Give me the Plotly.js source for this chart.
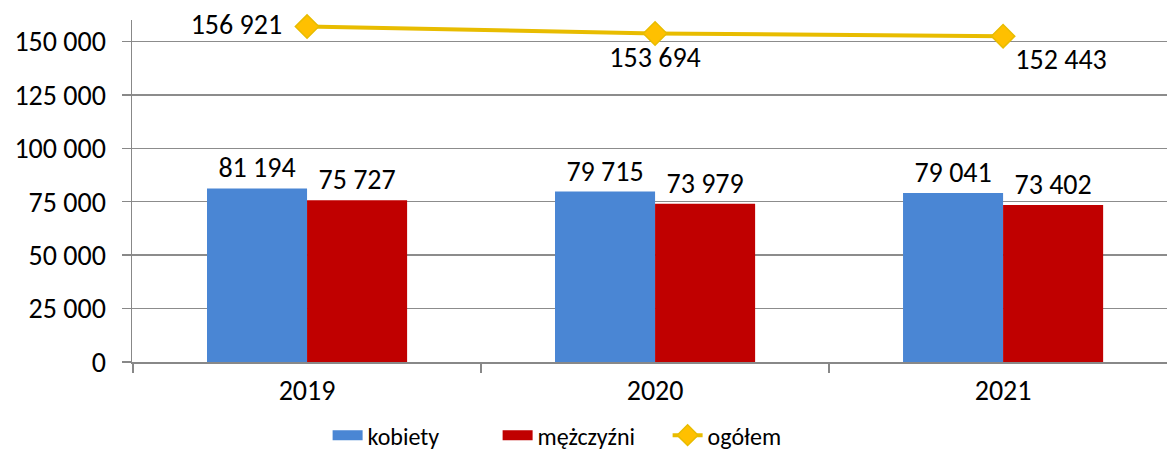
<!DOCTYPE html>
<html>
<head>
<meta charset="utf-8">
<script src="https://cdn.plot.ly/plotly-3.0.1.min.js"></script>
<style>html,body{margin:0;padding:0;background:#fff;}#chart{width:1167px;height:450px;}</style>
</head>
<body>
<div id="chart"></div>
<script>
const years = ["2019", "2020", "2021"];
const kobiety = [81194, 79715, 79041];
const mezczyzni = [75727, 73979, 73402];
const ogolem = [156921, 153694, 152443];
const yTicks = [0, 25000, 50000, 75000, 100000, 125000, 150000];

const FONT = "Calibri, Carlito, Lato, sans-serif";
const FS = 28;
const BLUE = "#4A86D4";
const RED = "#C00000";
const GOLD = "#E8BC00";
const GOLDFILL = "#FFC000";

const traces = [
  {
    type: "bar", name: "kobiety", x: years, y: kobiety,
    marker: {color: BLUE}, showlegend: false,
    texttemplate: "%{y:,}", textposition: "outside", cliponaxis: false,
    textfont: {family: FONT, size: FS, color: "#000"}
  },
  {
    type: "bar", name: "mężczyźni", x: years, y: mezczyzni,
    marker: {color: RED}, showlegend: false,
    texttemplate: "%{y:,}", textposition: "outside", cliponaxis: false,
    textfont: {family: FONT, size: FS, color: "#000"}
  },
  {
    type: "scatter", mode: "lines+markers+text", name: "ogółem", x: years, y: ogolem,
    line: {color: GOLD, width: 4},
    marker: {symbol: "diamond", size: 18, color: GOLDFILL, line: {color: GOLD, width: 1.5}},
    texttemplate: ["%{y:,}  ", "%{y:,}", "%{y:,}"],
    textposition: ["middle left", "bottom center", "bottom right"],
    textfont: {family: FONT, size: FS, color: "#000"},
    cliponaxis: false, showlegend: false
  },
  {type: "scatter", mode: "lines", name: "kobiety", x: [null], y: [null], line: {color: BLUE, width: 16}},
  {type: "scatter", mode: "lines", name: "mężczyźni", x: [null], y: [null], line: {color: RED, width: 16}},
  {type: "scatter", mode: "lines+markers", name: "ogółem", x: [null], y: [null],
   line: {color: GOLD, width: 4},
   marker: {symbol: "diamond", size: 16, color: GOLDFILL, line: {color: GOLD, width: 1.5}}}
];

const layout = {
  width: 1167, height: 450,
  margin: {l: 132, r: 0, t: 20, b: 88, autoexpand: false},
  paper_bgcolor: "#fff", plot_bgcolor: "#fff",
  separators: ", ",
  font: {family: FONT, size: FS, color: "#000"},
  barmode: "group", bargap: 0.425, bargroupgap: 0,
  showlegend: true,
  legend: {
    orientation: "h", x: 0.189, xanchor: "left", y: -0.215, yanchor: "middle",
    entrywidth: 125, entrywidthmode: "pixels",
    font: {family: FONT, size: 24, color: "#000"}, traceorder: "normal"
  },
  xaxis: {
    type: "category", range: [-0.503, 2.471],
    showline: true, linecolor: "#888", linewidth: 1.5,
    ticks: "outside", tickson: "boundaries", ticklen: 9, tickcolor: "#888", tickwidth: 1.5,
    ticklabelstandoff: 3,
    showgrid: false, tickfont: {family: FONT, size: FS}
  },
  yaxis: {
    range: [0, 160000], tickvals: yTicks, tickformat: ",",
    showline: true, linecolor: "#888", linewidth: 1.5,
    ticks: "outside", ticklen: 9, tickcolor: "#888", tickwidth: 1.5,
    ticklabelstandoff: 10,
    showgrid: true, gridcolor: "#8c8c8c", gridwidth: 1.5, zeroline: false,
    tickfont: {family: FONT, size: FS}
  }
};

Plotly.newPlot("chart", traces, layout, {displayModeBar: false, staticPlot: true});
</script>
</body>
</html>
